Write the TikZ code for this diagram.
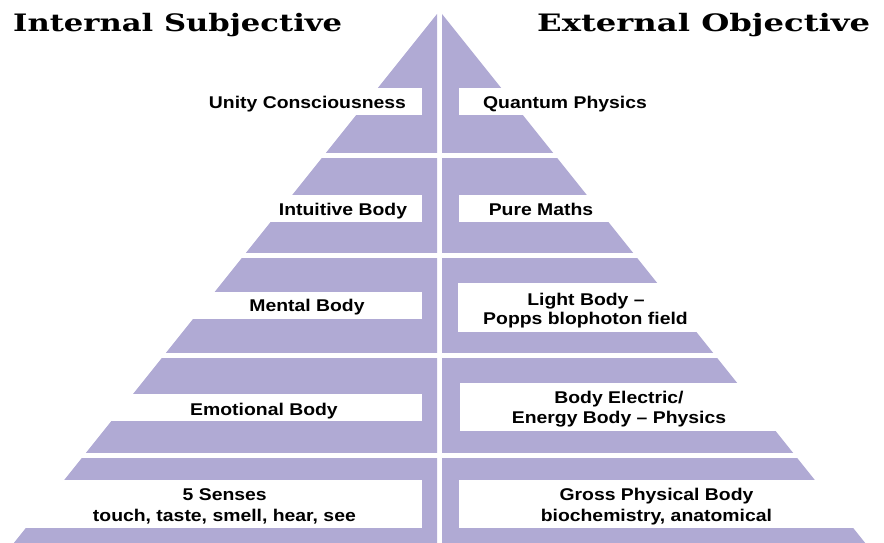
\documentclass[tikz,border=0pt]{standalone}
\usepackage{fontspec}
\newfontfamily\labfont[FakeStretch=1.14]{Liberation Sans}
\newfontfamily\titfont{DejaVu Serif}
\definecolor{pyr}{RGB}{176,170,212}
\newsavebox\tbox
\newcommand\fitx[2]{\sbox\tbox{#2}\pgfmathsetmacro\myr{#1/\the\wd\tbox}\scalebox{\myr}[1]{\usebox\tbox}}
\tikzset{
  lab/.style={anchor=base, inner sep=0pt, font=\labfont\bfseries\fontsize{17}{21}\selectfont},
  tit/.style={anchor=base west, inner sep=0pt},
  gap/.style={fill=white},
  labbox/.style={fill=white}
}
\begin{document}
\begin{tikzpicture}[x=1pt,y=-1pt]
\useasboundingbox (0,0) rectangle (884,543);
% pyramid halves
\fill[pyr] (437,14) -- (437,543) -- (13.8,543) -- cycle;
\fill[pyr] (442,14) -- (442,543) -- (865.2,543) -- cycle;
% horizontal gaps
\foreach \a/\b in {152.7/158, 252.7/258, 352.7/358, 452.7/457.5}
  \fill[gap] (0,\a) rectangle (884,\b);
% label boxes
\fill[labbox] (0,87.7) rectangle (422,115);
\fill[labbox] (459,87.7) rectangle (884,115);
\fill[labbox] (0,195) rectangle (422,221.7);
\fill[labbox] (459,195) rectangle (884,221.7);
\fill[labbox] (0,292) rectangle (422,319);
\fill[labbox] (458.3,283.3) rectangle (884,331.7);
\fill[labbox] (0,394) rectangle (422,420.7);
\fill[labbox] (460,382.7) rectangle (884,430.7);
\fill[labbox] (0,480) rectangle (422,527.7);
\fill[labbox] (459,480) rectangle (884,527.7);
% titles
\node[tit] (tl) at (13,31.5) {\fitx{329}{\titfont\bfseries\fontsize{24}{28}\selectfont Internal Subjective}};
\node[tit] (tr) at (537,31.5) {\fitx{333}{\titfont\bfseries\fontsize{24}{28}\selectfont External Objective}};
% labels left
\node[lab] (unity) at (307.5,108.3) {Unity Consciousness};
\node[lab] (intu) at (343,215) {Intuitive Body};
\node[lab] (mental) at (307,311) {Mental Body};
\node[lab] (emo) at (264,415) {Emotional Body};
\node[lab] (sen1) at (224.7,500) {5 Senses};
\node[lab] (sen2) at (224.4,521) {touch, taste, smell, hear, see};
% labels right
\node[lab] (quant) at (565,108.3) {Quantum Physics};
\node[lab] (maths) at (541,215) {Pure Maths};
\node[lab] (light1) at (586,305) {Light Body –};
\node[lab] (light2) at (585.5,324) {Popps blophoton field};
\node[lab] (elec1) at (619,403.3) {Body Electric/};
\node[lab] (elec2) at (619,423.3) {Energy Body – Physics};
\node[lab] (gross1) at (656.5,500) {Gross Physical Body};
\node[lab] (gross2) at (656.4,521) {biochemistry, anatomical};
\end{tikzpicture}
\end{document}
